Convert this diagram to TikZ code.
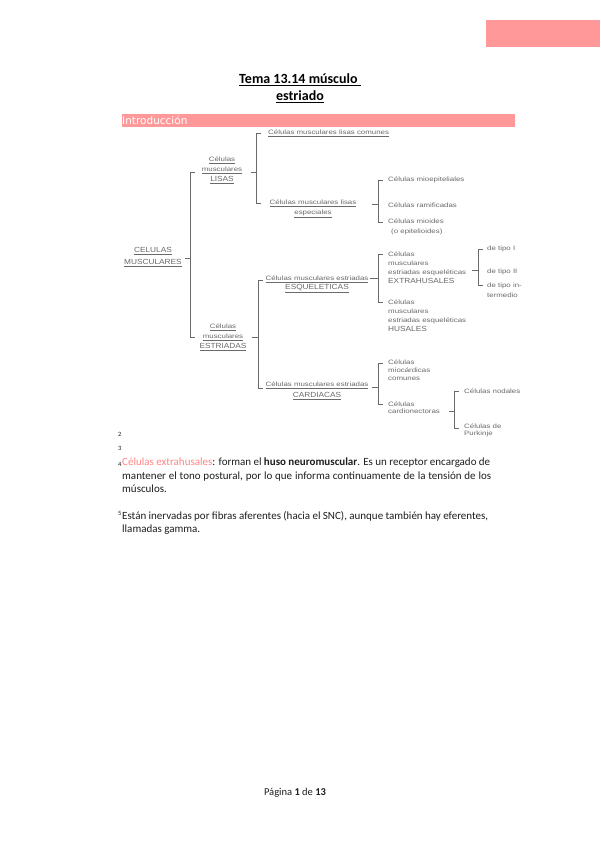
\documentclass[tikz,border=0pt]{standalone}
\usepackage{fontspec}
\setmainfont{Carlito}
\newfontfamily\diagf[FakeStretch=1.25]{Liberation Sans}
\newfontfamily\diagc[FakeStretch=1.12]{Liberation Sans}
\newfontfamily\introf{DejaVu Sans}
\definecolor{pinkbar}{HTML}{FF9999}
\definecolor{pinktext}{HTML}{FF8585}
\definecolor{dgray}{HTML}{6A6A6A}
\definecolor{bodyc}{HTML}{1E1E1E}
\newcommand\capsd[1]{{\diagc\fontsize{7.4}{9}\selectfont #1}}
\newcommand\ul[1]{\underline{#1}}
\newcommand\mybrk[6]{%
  \coordinate (#1top) at (#2+5,#3);
  \coordinate (#1a) at (#2,#3);
  \coordinate (#1b) at (#2,#4);
  \coordinate (#1bot) at (#2+5,#4);
  \coordinate (#1in) at (#6,#5);
  \coordinate (#1mid) at (#2,#5);
  \draw[brk] (#1top) -- (#1a) -- (#1b) -- (#1bot);
  \draw[brk] (#1in) -- (#1mid);
}
\tikzset{
  dtext/.style={font=\diagf\fontsize{6.3}{#1}\selectfont, text=dgray, inner sep=0pt},
  dtext/.default=9.5,
  brk/.style={draw=dgray, line width=0.7pt},
  body/.style={font=\fontsize{11}{13}\selectfont, text=bodyc, inner sep=0pt, anchor=base west},
  numl/.style={font=\fontsize{6.5}{7}\selectfont, text=bodyc, inner sep=0pt, anchor=base west},
}
\begin{document}
\begin{tikzpicture}[x=1pt,y=-1pt]
\fill[white] (0,0) rectangle (600,848);
\useasboundingbox (0,0) rectangle (600,848);
% header box
\fill[pinkbar] (486,20) rectangle (600,47);
% title
\node[font=\bfseries\fontsize{14}{16}\selectfont, inner sep=0pt, anchor=base] (t1) at (300,83.5) {\underline{Tema 13.14 músculo\ }};
\node[font=\bfseries\fontsize{14}{16}\selectfont, inner sep=0pt, anchor=base] (t2) at (300,100.5) {\underline{estriado}};
% intro bar
\fill[pinkbar] (122,114) rectangle (515,127);
\node[font=\introf\fontsize{10.5}{12}\selectfont, text=white, inner sep=0pt, anchor=base west] (intro) at (122,124.5) {Introducción};

% diagram text
\node[dtext=12, align=center] (cel) at (153,257) {\capsd{\ul{CELULAS}}\\\capsd{\ul{MUSCULARES}}};
\node[dtext=10, align=center] (lisas) at (222,170) {\ul{Células}\\\ul{musculares}\\\capsd{\ul{LISAS}}};
\node[dtext=10, align=center] (estr) at (223,337) {\ul{Células}\\\ul{musculares}\\\capsd{\ul{ESTRIADAS}}};
\node[dtext, anchor=west] (lcom) at (268,133) {\ul{Células musculares lisas comunes}};
\node[dtext=10, align=center] (lesp) at (313,209) {\ul{Células musculares lisas}\\\ul{especiales}};
\node[dtext, anchor=west] (mioep) at (388,180) {Células mioepiteliales};
\node[dtext, anchor=west] (ramif) at (388,205) {Células ramificadas};
\node[dtext=10, anchor=west, align=left] (mioid) at (388,227) {Células mioides\\\hspace*{3pt}(o epitelioides)};
\node[dtext=9, align=center] (esq) at (317,284.5) {\ul{Células musculares estriadas}\\\capsd{\ul{ESQUELETICAS}}};
\node[dtext=9, anchor=west, align=left] (extra) at (388,267.5) {Células\\musculares\\estriadas esqueléticas\\\capsd{EXTRAHUSALES}};
\node[dtext=9, anchor=west, align=left] (husal) at (388,315.5) {Células\\musculares\\estriadas esqueléticas\\\capsd{HUSALES}};
\node[dtext, anchor=west] (tipo1) at (487,249) {de tipo I};
\node[dtext, anchor=west] (tipo2) at (487,272) {de tipo II};
\node[dtext=10, anchor=west, align=left] (tipo3) at (487,290) {de tipo in-\\termedio};
\node[dtext=11, align=center] (card) at (317,390.5) {\ul{Células musculares estriadas}\\\capsd{\ul{CARDIACAS}}};
\node[dtext=8, anchor=west, align=left] (mioc) at (388,370) {Células\\miocárdicas\\comunes};
\node[dtext=7.5, anchor=west, align=left] (cardion) at (388,407.5) {Células\\cardionectoras};
\node[dtext, anchor=west] (nodal) at (464,391) {Células nodales};
\node[dtext=7.5, anchor=west, align=left] (purk) at (464,430.5) {Células de\\Purkinje};

% brackets
\mybrk{bA}{190}{172}{337}{258}{185}
\mybrk{bB}{256}{133}{203}{172}{251}
\mybrk{bC}{378}{180}{222}{204}{372}
\mybrk{bD}{258}{280}{388}{337}{252}
\mybrk{bE}{378}{254}{302}{278}{370}
\mybrk{bF}{478}{249}{285}{270}{472}
\mybrk{bG}{378}{363}{404}{387}{372}
\mybrk{bH}{454}{391}{428}{411}{449}

% margin numbers
\node[numl] (n2) at (118,436) {2};
\node[numl] (n3) at (118,450) {3};
\node[numl] (n4) at (118,466) {4};
\node[numl] (n5) at (118,515) {5};

% body text
\node[body] (p1) at (122,465) {\makebox[368pt][s]{\textcolor{pinktext}{Células extrahusales}: forman el \textbf{huso neuromuscular}. Es un receptor encargado de}};
\node[body] (p2) at (122,479) {\makebox[369pt][s]{mantener el tono postural, por lo que informa continuamente de la tensión de los}};
\node[body] (p3) at (122,492.5) {músculos.};
\node[body] (p4) at (122,519) {\makebox[366pt][s]{Están inervadas por fibras aferentes (hacia el SNC), aunque también hay eferentes,}};
\node[body] (p5) at (122,532.5) {llamadas gamma.};

% footer
\node[font=\fontsize{10.5}{12}\selectfont, text=bodyc, inner sep=0pt, anchor=base] (foot) at (295,795.5) {Página \textbf{1} de \textbf{13}};
\end{tikzpicture}
\end{document}
